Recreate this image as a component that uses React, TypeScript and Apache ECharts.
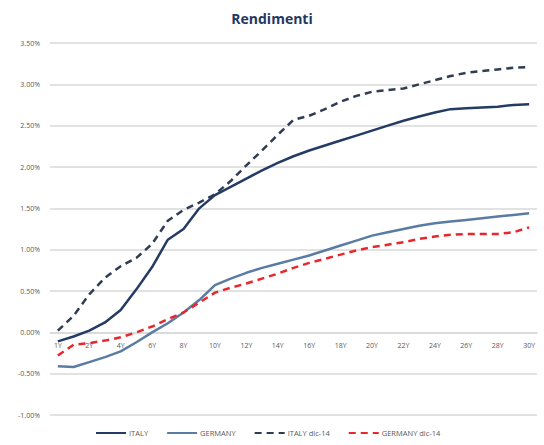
import React, { useEffect, useRef } from "react";
import * as echarts from "echarts";

const categories = [
  "1Y", "18M", "2Y", "3Y", "4Y", "5Y", "6Y", "7Y", "8Y", "9Y", "10Y",
  "11Y", "12Y", "13Y", "14Y", "15Y", "16Y", "17Y", "18Y", "19Y", "20Y",
  "21Y", "22Y", "23Y", "24Y", "25Y", "26Y", "27Y", "28Y", "29Y", "30Y",
];

const italy = [
  -0.11, -0.05, 0.02, 0.12, 0.27, 0.52, 0.79, 1.12, 1.25, 1.5, 1.66,
  1.76, 1.86, 1.96, 2.05, 2.13, 2.2, 2.26, 2.32, 2.38, 2.44,
  2.5, 2.56, 2.61, 2.66, 2.7, 2.71, 2.72, 2.73, 2.75, 2.76,
];

const germany = [
  -0.41, -0.42, -0.36, -0.3, -0.23, -0.12, 0.0, 0.11, 0.24, 0.39, 0.57,
  0.65, 0.72, 0.78, 0.83, 0.88, 0.93, 0.99, 1.05, 1.11, 1.17,
  1.21, 1.25, 1.29, 1.32, 1.34, 1.36, 1.38, 1.4, 1.42, 1.44,
];

const italyDic14 = [
  0.02, 0.2, 0.46, 0.66, 0.8, 0.9, 1.07, 1.35, 1.48, 1.57, 1.67,
  1.83, 2.02, 2.2, 2.39, 2.57, 2.62, 2.7, 2.79, 2.86, 2.91,
  2.93, 2.95, 3.0, 3.05, 3.1, 3.14, 3.16, 3.18, 3.2, 3.21,
];

const germanyDic14 = [
  -0.28, -0.15, -0.13, -0.1, -0.06, 0.0, 0.07, 0.16, 0.24, 0.36, 0.48,
  0.54, 0.59, 0.65, 0.71, 0.78, 0.84, 0.89, 0.94, 0.99, 1.03,
  1.06, 1.09, 1.13, 1.16, 1.18, 1.19, 1.19, 1.19, 1.21, 1.27,
];

const seriesNames = ["ITALY", "GERMANY", "ITALY dic-14", "GERMANY dic-14"];

const Y_MIN = -1;
const Y_MAX = 3.5;
const GRID_TOP = 43;
const GRID_BOTTOM = 30;
const CHART_H = 445;

export default function App() {
  const ref = useRef<HTMLDivElement>(null);

  useEffect(() => {
    if (!ref.current) return;
    const chart = echarts.init(ref.current, undefined, { renderer: "svg" });
    const font = "'Open Sans', 'Liberation Sans', sans-serif";
    const plotH = CHART_H - GRID_TOP - GRID_BOTTOM;
    // shift category axis up from the bottom edge to the zero line
    const zeroOffset = -((0 - Y_MIN) / (Y_MAX - Y_MIN)) * plotH;
    const mk = (name: string, data: number[], color: string, dashed: boolean) => ({
      name,
      type: "line",
      data,
      showSymbol: false,
      symbol: "none",
      lineStyle: {
        color,
        width: 2.5,
        type: dashed ? [7, 5] : "solid",
        cap: "butt",
      },
      itemStyle: { color },
    });
    chart.setOption({
      animation: false,
      backgroundColor: "#ffffff",
      textStyle: { fontFamily: font },
      title: {
        text: "Rendimenti",
        left: "center",
        top: 6,
        textStyle: {
          fontFamily: "'Open Sans', Lato, sans-serif",
          fontWeight: "bold",
          fontSize: 14,
          color: "#1f3864",
        },
      },
      legend: {
        left: 90,
        bottom: 3,
        itemWidth: 30,
        itemHeight: 6,
        itemGap: 18,
        itemStyle: { opacity: 0 },
        textStyle: { fontSize: 7.5, color: "#595959", fontFamily: font, padding: [0, 0, 0, -2] },
        data: seriesNames,
      },
      grid: { left: 50, right: 7, top: GRID_TOP, bottom: GRID_BOTTOM, containLabel: false },
      xAxis: {
        type: "category",
        data: categories,
        boundaryGap: true,
        offset: zeroOffset,
        axisLine: { onZero: false, lineStyle: { color: "#d9d9d9", width: 1.5 } },
        axisTick: { show: false },
        axisLabel: {
          interval: 1,
          fontSize: 7,
          color: "#595959",
          margin: 10,
        },
        splitLine: { show: false },
      },
      yAxis: {
        type: "value",
        min: Y_MIN,
        max: Y_MAX,
        interval: 0.5,
        axisLine: { show: false },
        axisTick: { show: false },
        axisLabel: {
          fontSize: 7,
          color: "#595959",
          margin: 10,
          formatter: (v: number) => `${v.toFixed(2)}%`,
        },
        splitLine: { lineStyle: { color: "#d9d9d9", width: 1.5 } },
      },
      series: [
        mk(seriesNames[0], italy, "#243b63", false),
        mk(seriesNames[1], germany, "#5a7ca3", false),
        mk(seriesNames[2], italyDic14, "#2f3c52", true),
        mk(seriesNames[3], germanyDic14, "#e8262b", true),
      ],
    });
    return () => chart.dispose();
  }, []);

  return (
    <div
      ref={ref}
      style={{ position: "fixed", left: 0, top: 0, width: 544, height: 445 }}
    />
  );
}
